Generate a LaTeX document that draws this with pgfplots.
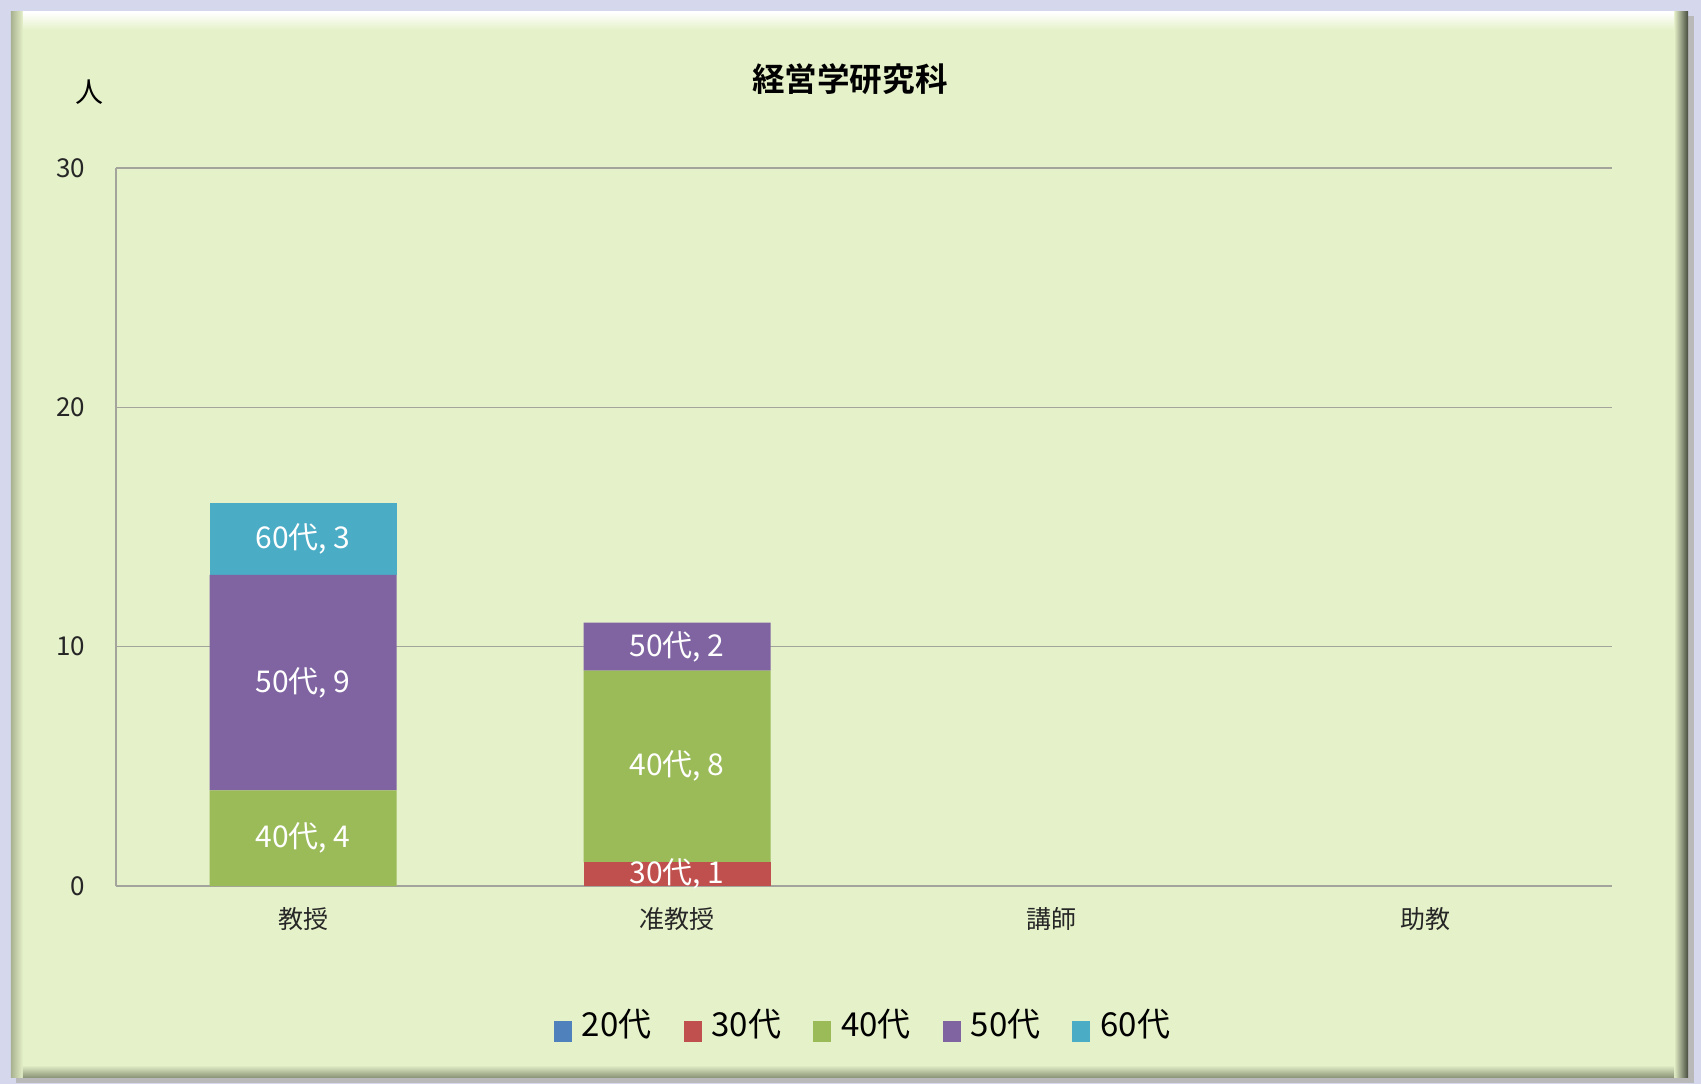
\documentclass[border=0pt]{standalone}
\usepackage{fontspec}
\setmainfont{Noto Sans CJK JP}[BoldFont={Noto Sans CJK JP Bold}]
\usepackage{pgfplots}
\pgfplotsset{compat=1.18}
\definecolor{c20}{HTML}{4F81BD}
\definecolor{c30}{HTML}{C0504D}
\definecolor{c40}{HTML}{9BBB59}
\definecolor{c50}{HTML}{8064A2}
\definecolor{c60}{HTML}{4BACC6}
\definecolor{bgout}{HTML}{D5D8EC}
\definecolor{panel}{HTML}{E5F1C9}
\definecolor{gridc}{HTML}{A3A59C}
\definecolor{darkedge}{HTML}{474C3E}
\definecolor{leftedge}{HTML}{A9B290}
\definecolor{botedge}{HTML}{8E977A}
\pgfplotsset{common/.style={at={(0,0)}, anchor=south west,
  scale only axis, width=748pt, height=359pt,
  xmin=-0.5, xmax=3.5, ymin=0, ymax=30, clip=false}}
\begin{document}
\begin{tikzpicture}
% outer background and panel
\fill[bgout] (-58pt,-99pt) rectangle (792.5pt,443pt);
\fill[gray!55] (-50pt,-98.5pt) rectangle (789pt,435pt);
\fill[panel] (-52.5pt,-95.5pt) rectangle (786pt,437pt);
\shade[left color=leftedge, right color=panel] (-52.5pt,-95.5pt) rectangle (-46.5pt,437pt);
\shade[left color=panel, right color=darkedge] (779pt,-95.5pt) rectangle (786pt,437pt);
\shade[top color=white, bottom color=panel] (-46.5pt,437pt) rectangle (779pt,428pt);
\shade[top color=panel, bottom color=botedge] (-46.5pt,-89.5pt) rectangle (779pt,-95.5pt);
\begin{axis}[common,
  ybar stacked, bar width=93.5pt,
  xtick={0,1,2,3}, xticklabels={教授,准教授,講師,助教},
  ytick={0,10,20,30},
  axis lines*=left,
  axis line style={draw=gridc, line width=0.7pt},
  major tick length=0pt,
  ymajorgrids, grid style={draw=gridc, line width=0.7pt},
  /pgf/number format/assume math mode=true,
  yticklabel style={font=\fontsize{13}{15}\selectfont, text=black!85, xshift=-12pt},
  xticklabel style={font=\fontsize{12.5}{14}\selectfont, text=black!85, yshift=-7pt},
  legend style={at={(0.5,-0.192)}, anchor=center, draw=none, fill=none,
    font=\fontsize{16.5}{18}\selectfont,
    /tikz/every odd column/.append style={column sep=3pt},
    /tikz/every even column/.append style={column sep=14pt}},
  legend columns=5,
  legend image code/.code={\fill[#1] (0pt,-9.3pt) rectangle (9pt,1.5pt);},
]
\addlegendimage{fill=c20, draw=none}
\addlegendentry{20代}
\addplot[fill=c30, draw=none] coordinates {(0,0) (1,1) (2,0) (3,0)};
\addlegendentry{30代}
\addplot[fill=c40, draw=none] coordinates {(0,4) (1,8) (2,0) (3,0)};
\addlegendentry{40代}
\addplot[fill=c50, draw=none] coordinates {(0,9) (1,2) (2,0) (3,0)};
\addlegendentry{50代}
\addplot[fill=c60, draw=none] coordinates {(0,3) (1,0) (2,0) (3,0)};
\addlegendentry{60代}
\node[font=\bfseries\fontsize{16.3}{19}\selectfont] at (rel axis cs:0.4906,1.124) {経営学研究科};
\node[font=\fontsize{14}{16}\selectfont] at (rel axis cs:-0.018,1.106) {人};
\end{axis}
% segment labels, at the middle of each segment
\begin{axis}[common, hide axis]
\addplot[draw=none, mark=none, nodes near coords, point meta=explicit symbolic,
  every node near coord/.append style={anchor=center, text=white, font=\fontsize{15}{17}\selectfont}]
  coordinates {(0,2) [40代, 4] (0,8.5) [50代, 9] (0,14.5) [60代, 3]
               (1,0.5) [30代, 1] (1,5) [40代, 8] (1,10) [50代, 2]};
\end{axis}
\end{tikzpicture}
\end{document}
